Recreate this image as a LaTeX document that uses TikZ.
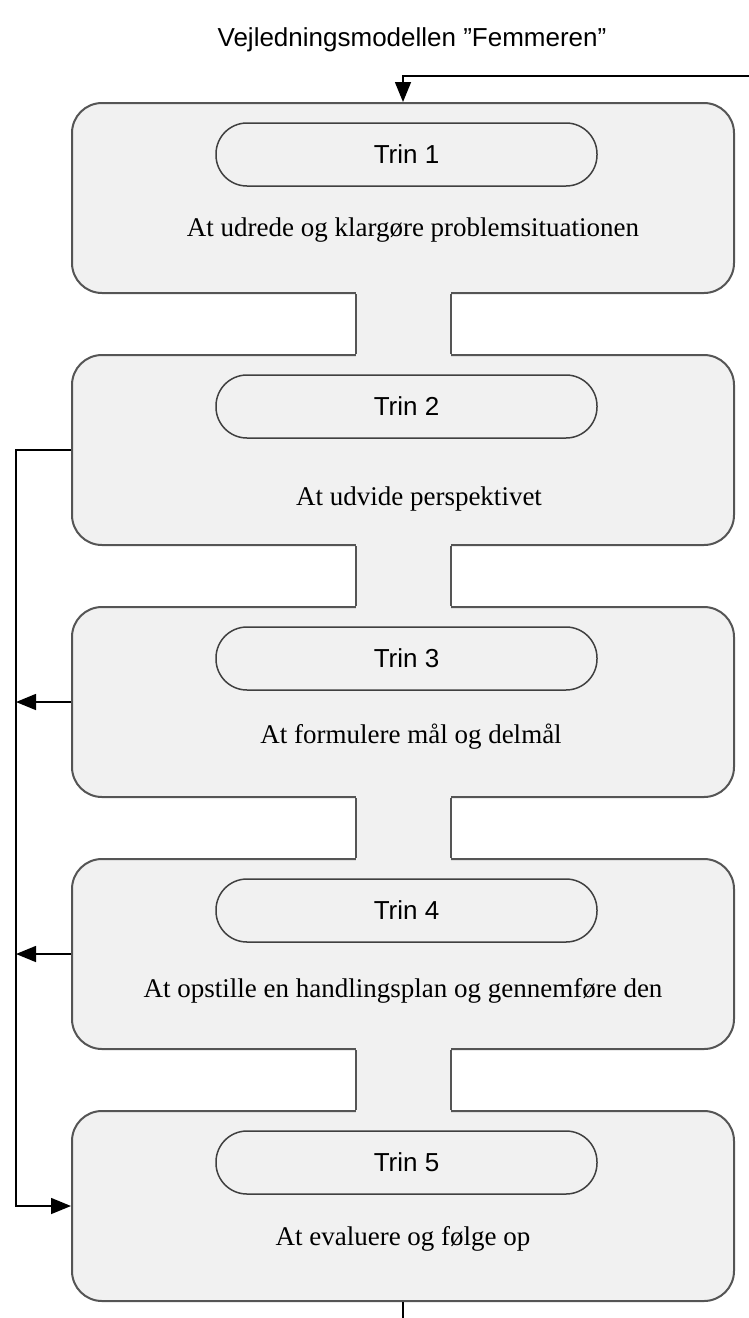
\documentclass[tikz,border=0pt]{standalone}
\usepackage{fontspec}
\setmainfont{Liberation Serif}
\setsansfont{Liberation Sans}
\usetikzlibrary{arrows.meta,calc}
\definecolor{boksgraa}{RGB}{241,241,241}
\definecolor{kant}{RGB}{85,85,85}

\tikzset{
  boks/.style={draw=kant,line width=2pt,fill=boksgraa,rounded corners=30pt,
    minimum width=662pt,minimum height=190pt,inner sep=0pt},
  trin/.style={draw=black!75,line width=1.5pt,rounded corners=31pt,
    minimum width=381pt,minimum height=63pt,inner sep=0pt,
    font=\sffamily\fontsize{26}{30}\selectfont},
  tekst/.style={anchor=base,inner sep=0pt,font=\fontsize{27}{31}\selectfont},
  pil/.style={-{Triangle[length=20pt,width=16pt]},line width=1.5pt},
  linje/.style={line width=1.5pt}
}

\begin{document}
\begin{tikzpicture}[x=1pt,y=-1pt]
\useasboundingbox (0,0) rectangle (749,1318);
\node[anchor=base,inner sep=0pt,font=\sffamily\fontsize{26}{30}\selectfont] (titel) at (412,46) {Vejledningsmodellen ”Femmeren”};

% de fem trin
\foreach \i/\tx/\ty/\tekst in {1/413/133/{At udrede og klargøre problemsituationen},
    2/419/150/{At udvide perspektivet},
    3/411/136/{At formulere mål og delmål},
    4/403/138/{At opstille en handlingsplan og gennemføre den},
    5/403/134/{At evaluere og følge op}}{
  \pgfmathsetmacro\yc{198+252*(\i-1)}
  \node[boks] (b\i) at (403,\yc) {};
  \node[trin] (p\i) at (406.5,\yc-43.5) {Trin \i};
  \node[tekst] (t\i) at (\tx,\yc-95+\ty) {\tekst};
}

% halsene mellem boksene
\foreach \i [evaluate=\i as \j using int(\i+1)] in {1,...,4}{
  \fill[boksgraa] ($(b\i.south)+(-47.5,-3)$) rectangle ($(b\j.north)+(47.5,3)$);
  \draw[kant,line width=2pt] ($(b\i.south)+(-47.5,0)$) -- ($(b\j.north)+(-47.5,0)$);
  \draw[kant,line width=2pt] ($(b\i.south)+(47.5,0)$) -- ($(b\j.north)+(47.5,0)$);
}

\coordinate (venstre) at (16,0);
\coordinate (ind) at (749,76);
\coordinate (ud) at (403,1318);

\draw[pil] (ind) -| (b1.north);
\draw[pil] (b2.west) -- (b2.west -| venstre) -- (b5.west -| venstre) -- (b5.west);
\draw[pil] (b3.west) -- (b3.west -| venstre);
\draw[pil] (b4.west) -- (b4.west -| venstre);
\draw[linje] (b5.south) -- (ud);

\end{tikzpicture}
\end{document}
